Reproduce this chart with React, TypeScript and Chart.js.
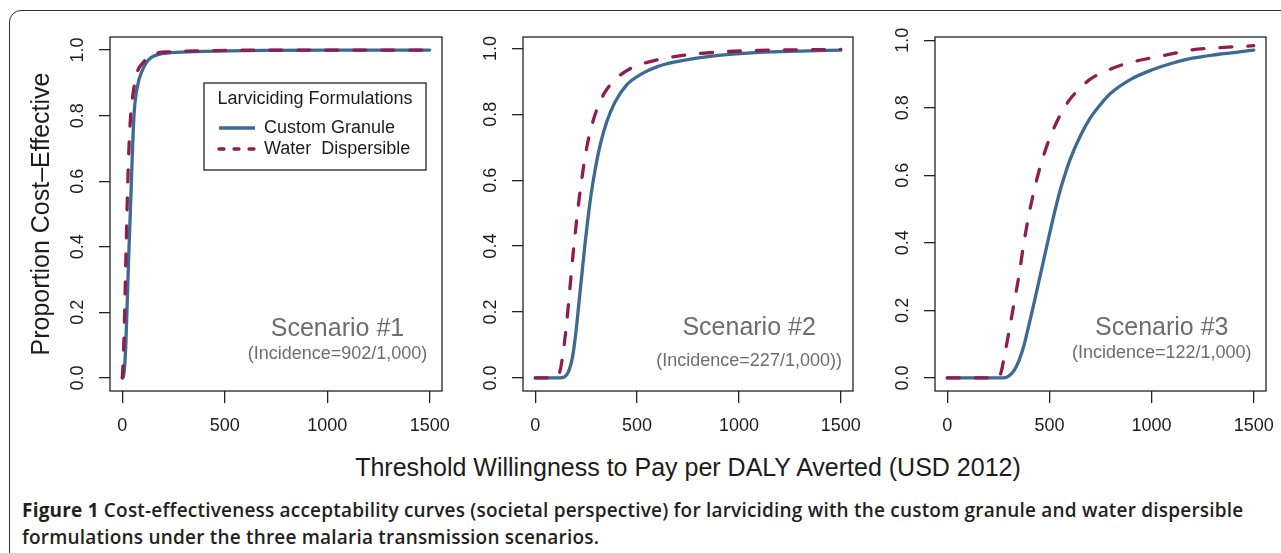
import React, { useEffect, useRef } from 'react';
import { Chart, registerables } from 'chart.js';

Chart.register(...registerables);

// ---------- data ----------
const X_TICKS = [0, 500, 1000, 1500];
const X_TICK_LABELS = ['0', '500', '1000', '1500'];
const Y_TICKS = [0, 0.2, 0.4, 0.6, 0.8, 1.0];
const Y_TICK_LABELS = ['0.0', '0.2', '0.4', '0.6', '0.8', '1.0'];
const X_RANGE = [0, 1500];

const SERIES_NAMES = ['Custom Granule', 'Water  Dispersible'];
const LEGEND_TITLE = 'Larviciding Formulations';
const SCENARIO_TITLES = ['Scenario #1', 'Scenario #2', 'Scenario #3'];
const INCIDENCE_LABELS = ['(Incidence=902/1,000)', '(Incidence=227/1,000))', '(Incidence=122/1,000)'];
const Y_AXIS_TITLE = 'Proportion Cost\u2013Effective';
const X_AXIS_TITLE = 'Threshold Willingness to Pay per DALY Averted (USD 2012)';

// Scenario #1
const S1_CG_X = [0, 5, 10, 17, 25, 33, 42, 50, 58, 74, 99, 140, 238, 400, 700, 1000, 1500];
const S1_CG_Y = [0, 0.003, 0.025, 0.1, 0.25, 0.4, 0.555, 0.7, 0.81, 0.89, 0.94, 0.977, 0.992, 0.996, 0.999, 1.0, 1.0];
const S1_WD_X = [0, 5, 10, 17, 25, 33, 42, 50, 58, 74, 99, 140, 238, 400, 700, 1000, 1500];
const S1_WD_Y = [0, 0.06, 0.16, 0.35, 0.555, 0.71, 0.81, 0.855, 0.89, 0.935, 0.96, 0.985, 0.995, 0.998, 1.0, 1.0, 1.0];

// Scenario #2
const S2_CG_X = [0, 120, 140, 155, 170, 185, 200, 215, 230, 245, 260, 275, 295, 320, 350, 390, 450, 520, 600, 750, 900, 1100, 1300, 1500];
const S2_CG_Y = [0, 0, 0.002, 0.01, 0.03, 0.07, 0.14, 0.23, 0.32, 0.41, 0.49, 0.56, 0.635, 0.71, 0.775, 0.835, 0.89, 0.922, 0.945, 0.966, 0.979, 0.988, 0.992, 0.995];
const S2_WD_X = [0, 100, 112, 125, 140, 155, 170, 185, 200, 215, 230, 250, 275, 300, 340, 400, 480, 550, 700, 900, 1100, 1300, 1500];
const S2_WD_Y = [0, 0, 0.005, 0.03, 0.09, 0.17, 0.27, 0.37, 0.46, 0.54, 0.61, 0.69, 0.76, 0.81, 0.865, 0.91, 0.943, 0.958, 0.977, 0.989, 0.994, 0.996, 0.997];

// Scenario #3
const S3_CG_X = [0, 250, 285, 300, 325, 350, 375, 400, 425, 450, 475, 500, 525, 550, 575, 600, 650, 700, 750, 800, 900, 1000, 1100, 1200, 1320, 1500];
const S3_CG_Y = [0, 0, 0.001, 0.005, 0.02, 0.05, 0.095, 0.158, 0.222, 0.29, 0.358, 0.425, 0.49, 0.55, 0.6, 0.645, 0.715, 0.77, 0.81, 0.843, 0.885, 0.912, 0.932, 0.947, 0.958, 0.971];
const S3_WD_X = [0, 250, 265, 275, 300, 325, 350, 375, 400, 425, 450, 475, 500, 550, 600, 650, 700, 800, 900, 1000, 1125, 1190, 1300, 1500];
const S3_WD_Y = [0, 0, 0.02, 0.05, 0.13, 0.215, 0.3, 0.4, 0.485, 0.555, 0.615, 0.665, 0.708, 0.775, 0.825, 0.858, 0.885, 0.915, 0.935, 0.948, 0.963, 0.971, 0.977, 0.984];

const SCENARIOS = [
  { cgX: S1_CG_X, cgY: S1_CG_Y, wdX: S1_WD_X, wdY: S1_WD_Y },
  { cgX: S2_CG_X, cgY: S2_CG_Y, wdX: S2_WD_X, wdY: S2_WD_Y },
  { cgX: S3_CG_X, cgY: S3_CG_Y, wdX: S3_WD_X, wdY: S3_WD_Y },
];

// annotation anchor (data units)
const NOTE_X = 1050;
const NOTE_Y1 = [0.15, 0.15, 0.148];
const NOTE_Y2 = [0.073, 0.052, 0.074];

// ---------- styles / layout ----------
const FONT = '"Liberation Sans", Arial, Helvetica, sans-serif';
const BLUE = '#3c6a92';
const MAROON = '#8e1e50';
const INK = '#1c1c1c';
const GREY = '#6d6d6d';

const CANVAS_H = 445;
const PAD_TOP = 37;
const X_AXIS_H = 54;
const PANELS = [
  { left: 0, width: 455, yAxisW: 110, padRight: 13 },
  { left: 460, width: 405, yAxisW: 63, padRight: 12 },
  { left: 870, width: 411, yAxisW: 65, padRight: 15 },
];

const framePlugin = {
  id: 'plotFrame',
  afterDraw(chart: any) {
    const { ctx, chartArea: ca } = chart;
    ctx.save();
    ctx.strokeStyle = '#222';
    ctx.lineWidth = 1.3;
    ctx.strokeRect(ca.left, ca.top, ca.right - ca.left, ca.bottom - ca.top);
    ctx.restore();
  },
};

const legendPlacePlugin = {
  id: 'legendPlace',
  afterLayout(chart: any, _args: any, opts: any) {
    if (!opts || !opts.enabled) return;
    const lg = chart.legend;
    if (!lg) return;
    const ca = chart.chartArea;
    lg.left = ca.left + 106;
    lg.top = ca.top + 46;
    lg.width = 198;
    lg.height = 87;
    lg.right = lg.left + lg.width;
    lg.bottom = lg.top + lg.height;
  },
  afterDraw(chart: any, _args: any, opts: any) {
    if (!opts || !opts.enabled) return;
    const { ctx, chartArea: ca } = chart;
    ctx.save();
    ctx.strokeStyle = '#222';
    ctx.lineWidth = 1.3;
    ctx.strokeRect(ca.left + 94, ca.top + 46, 222, 87);
    ctx.restore();
  },
};

const notePlugin = {
  id: 'scenarioNote',
  afterDatasetsDraw(chart: any, _args: any, opts: any) {
    const { ctx, scales } = chart;
    const x = scales.x.getPixelForValue(opts.x);
    ctx.save();
    ctx.fillStyle = GREY;
    ctx.textAlign = 'center';
    ctx.textBaseline = 'middle';
    ctx.font = `25px ${FONT}`;
    ctx.fillText(opts.title, x, scales.y.getPixelForValue(opts.y1));
    ctx.font = `18px ${FONT}`;
    ctx.fillText(opts.sub, x, scales.y.getPixelForValue(opts.y2));
    ctx.restore();
  },
};

function toPoints(xs: number[], ys: number[]) {
  return xs.map((x, i) => ({ x, y: ys[i] }));
}

function Panel({ index }: { index: number }) {
  const ref = useRef<HTMLCanvasElement | null>(null);
  const p = PANELS[index];
  useEffect(() => {
    const s = SCENARIOS[index];
    const top = Math.max(...s.cgY);
    const xSpan = X_RANGE[1] - X_RANGE[0];
    const isFirst = index === 0;
    const chart = new Chart(ref.current as HTMLCanvasElement, {
      type: 'line',
      data: {
        datasets: [
          {
            label: SERIES_NAMES[0],
            data: toPoints(s.cgX, s.cgY),
            borderColor: BLUE,
            backgroundColor: BLUE,
            borderWidth: 3.3,
            pointRadius: 0,
            cubicInterpolationMode: 'monotone',
            borderCapStyle: 'round',
            fill: false,
            order: 2,
          },
          {
            label: SERIES_NAMES[1],
            data: toPoints(s.wdX, s.wdY),
            borderColor: MAROON,
            backgroundColor: MAROON,
            borderWidth: 3.3,
            borderDash: [12, 16],
            borderCapStyle: 'round',
            pointRadius: 0,
            cubicInterpolationMode: 'monotone',
            fill: false,
            order: 1,
          },
        ],
      } as any,
      options: {
        animation: false,
        responsive: false,
        events: [],
        layout: { padding: { top: PAD_TOP, right: p.padRight, left: 0, bottom: 0 } },
        scales: {
          x: {
            type: 'linear',
            min: X_RANGE[0] - 0.04 * xSpan,
            max: X_RANGE[1] + 0.04 * xSpan,
            afterBuildTicks: (sc: any) => {
              sc.ticks = X_TICKS.map((v) => ({ value: v }));
            },
            afterFit: (sc: any) => {
              sc.height = X_AXIS_H;
              sc.paddingLeft = 0;
              sc.paddingRight = 0;
            },
            grid: {
              display: true,
              drawOnChartArea: false,
              drawTicks: true,
              tickLength: 12,
              color: '#222',
              tickColor: '#222',
              lineWidth: 1.3,
              tickWidth: 1.3,
            },
            border: { display: false },
            ticks: {
              autoSkip: false,
              maxRotation: 0,
              minRotation: 0,
              padding: 12,
              color: INK,
              font: { family: FONT, size: 18 },
              callback: (_v: any, i: number) => X_TICK_LABELS[i],
            },
          },
          y: {
            type: 'linear',
            min: -0.04 * top,
            max: 1.04 * top,
            afterBuildTicks: (sc: any) => {
              sc.ticks = Y_TICKS.map((v) => ({ value: v }));
            },
            afterFit: (sc: any) => {
              sc.width = p.yAxisW;
              sc.paddingTop = 0;
              sc.paddingBottom = 0;
            },
            grid: {
              display: true,
              drawOnChartArea: false,
              drawTicks: true,
              tickLength: 11,
              color: '#222',
              tickColor: '#222',
              lineWidth: 1.3,
              tickWidth: 1.3,
            },
            border: { display: false },
            ticks: {
              autoSkip: false,
              minRotation: 90,
              maxRotation: 90,
              crossAlign: 'center',
              padding: 8,
              color: INK,
              font: { family: FONT, size: 18 },
              callback: (_v: any, i: number) => Y_TICK_LABELS[i],
            },
            title: {
              display: isFirst,
              text: Y_AXIS_TITLE,
              color: INK,
              font: { family: FONT, size: 25 },
              padding: { top: 27, bottom: 0 },
            },
          },
        },
        plugins: {
          tooltip: { enabled: false },
          legend: {
            display: isFirst,
            position: 'chartArea',
            align: 'start',
            title: {
              display: true,
              text: LEGEND_TITLE,
              color: INK,
              font: { family: FONT, size: 18 },
              padding: { top: 7, bottom: 4.4 },
            },
            labels: {
              usePointStyle: true,
              pointStyleWidth: 36,
              padding: 3,
              color: INK,
              font: { family: FONT, size: 18 },
              generateLabels: (c: any) =>
                c.data.datasets.map((ds: any, i: number) => ({
                  text: ds.label,
                  fillStyle: ds.borderColor,
                  strokeStyle: ds.borderColor,
                  fontColor: INK,
                  lineWidth: 3.3,
                  lineCap: i === 1 ? 'round' : 'butt',
                  lineDash: i === 1 ? [5, 10] : [],
                  pointStyle: 'line',
                  hidden: false,
                  datasetIndex: i,
                })),
            },
          },
          legendPlace: { enabled: isFirst },
          scenarioNote: {
            x: NOTE_X,
            y1: NOTE_Y1[index],
            y2: NOTE_Y2[index],
            title: SCENARIO_TITLES[index],
            sub: INCIDENCE_LABELS[index],
          },
        } as any,
      } as any,
      plugins: [framePlugin, legendPlacePlugin, notePlugin] as any,
    });
    return () => chart.destroy();
  }, [index]);
  return (
    <canvas
      ref={ref}
      width={p.width}
      height={CANVAS_H}
      style={{ position: 'absolute', left: p.left, top: 0, width: p.width, height: CANVAS_H }}
    />
  );
}

export default function App() {
  return (
    <div
      style={{
        position: 'absolute',
        left: 0,
        top: 0,
        width: 1281,
        height: 553,
        overflow: 'hidden',
        background: '#fff',
      }}
    >
      <div
        style={{
          position: 'absolute',
          left: 9,
          top: 10,
          width: 1320,
          height: 620,
          border: '1.5px solid #2e2e2e',
          borderRadius: 12,
          boxSizing: 'border-box',
        }}
      />
      {PANELS.map((_, i) => (
        <Panel key={i} index={i} />
      ))}
      <div
        style={{
          position: 'absolute',
          left: 188,
          top: 452,
          width: 1000,
          textAlign: 'center',
          fontFamily: FONT,
          fontSize: 25,
          lineHeight: '30px',
          color: INK,
          whiteSpace: 'nowrap',
        }}
      >
        {X_AXIS_TITLE}
      </div>
      <div
        style={{
          position: 'absolute',
          left: 22,
          top: 497,
          fontFamily: '"Open Sans", sans-serif',
          fontSize: 19,
          letterSpacing: '0.2px',
          lineHeight: '27px',
          fontWeight: 600,
          color: '#231f20',
          whiteSpace: 'nowrap',
        }}
      >
        <span style={{ fontWeight: 700 }}>Figure 1</span> Cost-effectiveness acceptability curves (societal
        perspective) for larviciding with the custom granule and water dispersible
        <br />
        formulations under the three malaria transmission scenarios.
      </div>
    </div>
  );
}
